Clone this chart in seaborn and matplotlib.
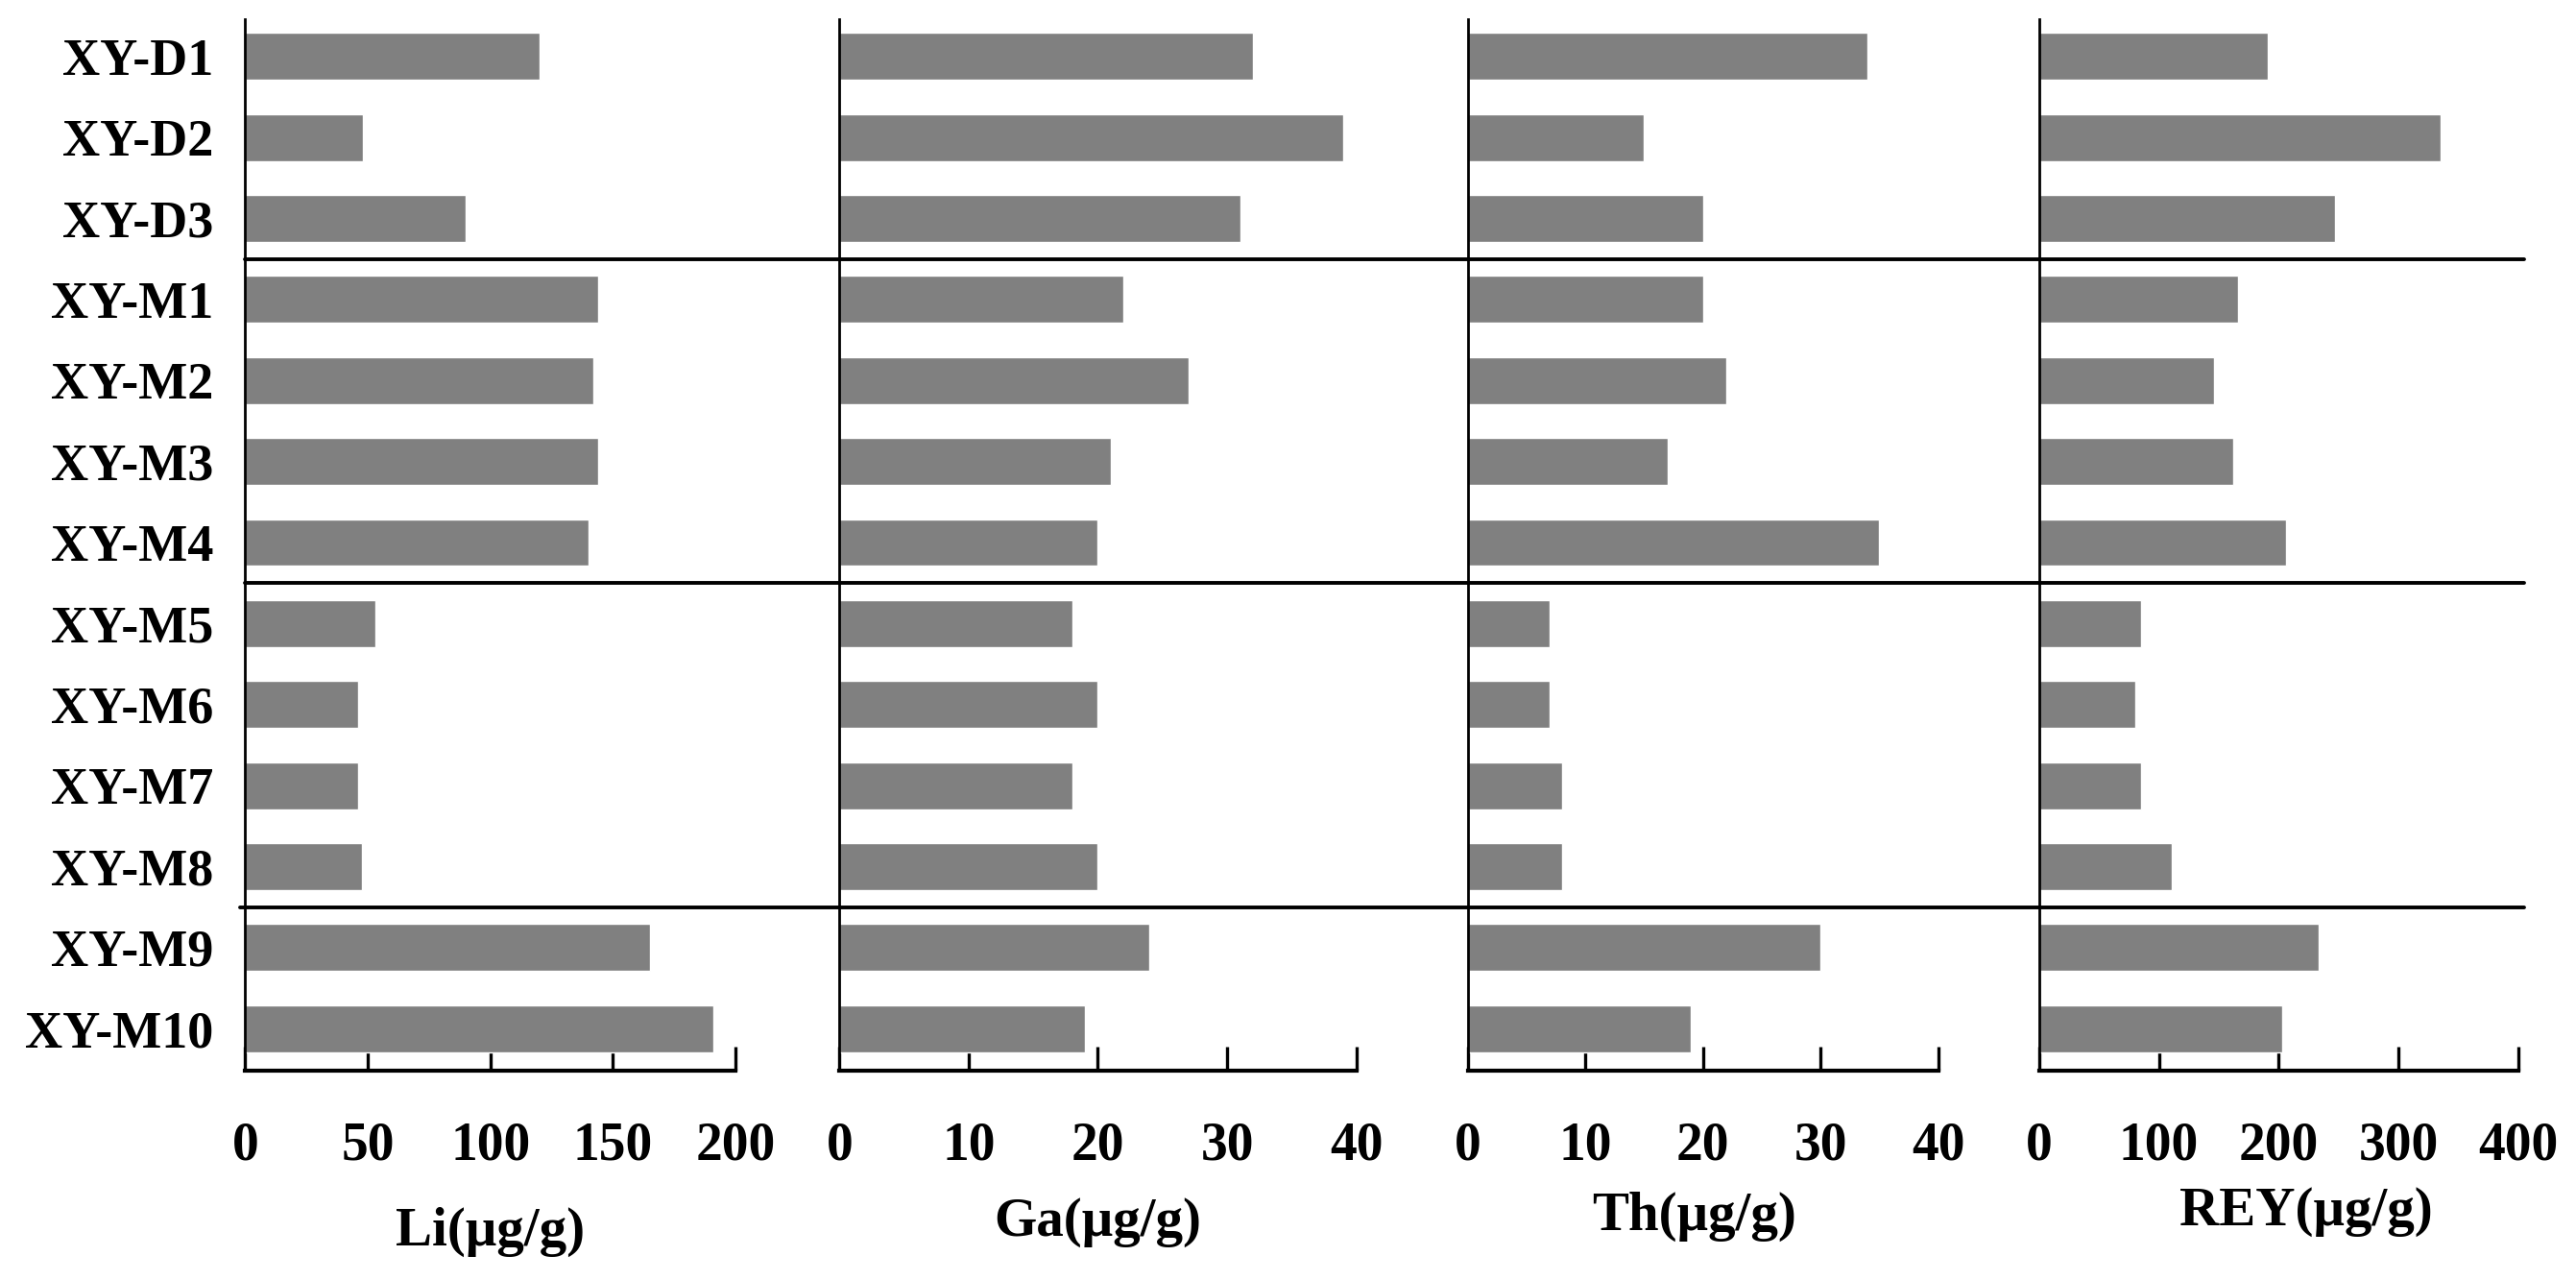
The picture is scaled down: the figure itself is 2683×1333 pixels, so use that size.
import matplotlib
matplotlib.use("Agg")
import matplotlib.pyplot as plt
import seaborn as sns
import pandas as pd
from matplotlib.lines import Line2D

# ---------------- data ----------------
samples = ["XY-D1", "XY-D2", "XY-D3", "XY-M1", "XY-M2", "XY-M3", "XY-M4",
           "XY-M5", "XY-M6", "XY-M7", "XY-M8", "XY-M9", "XY-M10"]
group_sizes = [3, 4, 4, 2]

li = [120, 48, 90, 144, 142, 144, 140, 53, 46, 46, 47.5, 165, 191]
ga = [32, 39, 31, 22, 27, 21, 20, 18, 20, 18, 20, 24, 19]
th = [34, 15, 20, 20, 22, 17, 35, 7, 7, 8, 8, 30, 19]
rey = [191, 335, 247, 166, 146, 162, 206, 85, 80, 85, 111, 233, 203]

li_ticks = [0, 50, 100, 150, 200]
ga_ticks = [0, 10, 20, 30, 40]
th_ticks = [0, 10, 20, 30, 40]
rey_ticks = [0, 100, 200, 300, 400]

labels = ["Li(μg/g)", "Ga(μg/g)", "Th(μg/g)", "REY(μg/g)"]

df = pd.DataFrame({"sample": samples, "Li": li, "Ga": ga, "Th": th, "REY": rey})

# ---------------- style ----------------
sns.set_style("white")
plt.rcParams["font.family"] = ["Liberation Serif", "DejaVu Serif"]
plt.rcParams["font.weight"] = "bold"
plt.rcParams["text.color"] = "black"
plt.rcParams["axes.labelcolor"] = "black"
plt.rcParams["xtick.color"] = "black"
plt.rcParams["ytick.color"] = "black"

fig = plt.figure(figsize=(26.83, 13.33), dpi=100)

panels = [
    ("Li", li_ticks, labels[0], (0.0952, 0.1635, 0.1903, 0.8215), (0.50, -0.153)),
    ("Ga", ga_ticks, labels[1], (0.3259, 0.1635, 0.2006, 0.8215), (0.50, -0.144)),
    ("Th", th_ticks, labels[2], (0.5697, 0.1635, 0.1827, 0.8215), (0.482, -0.139)),
    ("REY", rey_ticks, labels[3], (0.7916, 0.1635, 0.1860, 0.8215), (0.557, -0.134)),
]

axes = []
for i, (col, ticks, lab, rect, lpos) in enumerate(panels):
    ax = fig.add_axes(rect)
    sns.barplot(data=df, x=col, y="sample", orient="h", color="#808080",
                saturation=1, width=0.58, errorbar=None, ax=ax)
    ax.set_xlim(ticks[0], ticks[-1])
    ax.set_ylim(len(samples) - 0.48, -0.46)
    ax.set_xticks(ticks)
    ax.set_xticklabels([str(t) for t in ticks], fontsize=40, fontweight="bold",
                       color="black")
    ax.tick_params(axis="x", bottom=True, direction="in", length=18, width=2.4,
                   pad=38, color="black")
    ax.tick_params(axis="y", left=False, length=0, pad=24)
    if i == 0:
        ax.set_yticks(range(len(samples)))
        ax.set_yticklabels(samples, fontsize=39, fontweight="bold", color="black")
    else:
        ax.set_yticks([])
    for s in ["top", "right"]:
        ax.spines[s].set_visible(False)
    ax.spines["left"].set_linewidth(2.0)
    ax.spines["left"].set_color("black")
    ax.spines["bottom"].set_linewidth(3.0)
    ax.spines["bottom"].set_color("black")
    ax.set_ylabel("")
    ax.set_xlabel(lab, fontsize=41, fontweight="bold", color="black")
    ax.xaxis.set_label_coords(*lpos)
    ax.xaxis.label.set_va("center")
    ax.grid(False)
    axes.append(ax)

# group separator lines across all panels
inv = fig.transFigure.inverted()
bounds = []
acc = 0
for g in group_sizes[:-1]:
    acc += g
    bounds.append(acc - 0.5)
starts = [0.0952, 0.0952, 0.0933]
for b, x0 in zip(bounds, starts):
    yf = inv.transform(axes[0].transData.transform((0, b)))[1]
    fig.add_artist(Line2D([x0, 0.980], [yf, yf], transform=fig.transFigure,
                          color="black", linewidth=2.8))

fig.savefig("out.png", dpi=100)
